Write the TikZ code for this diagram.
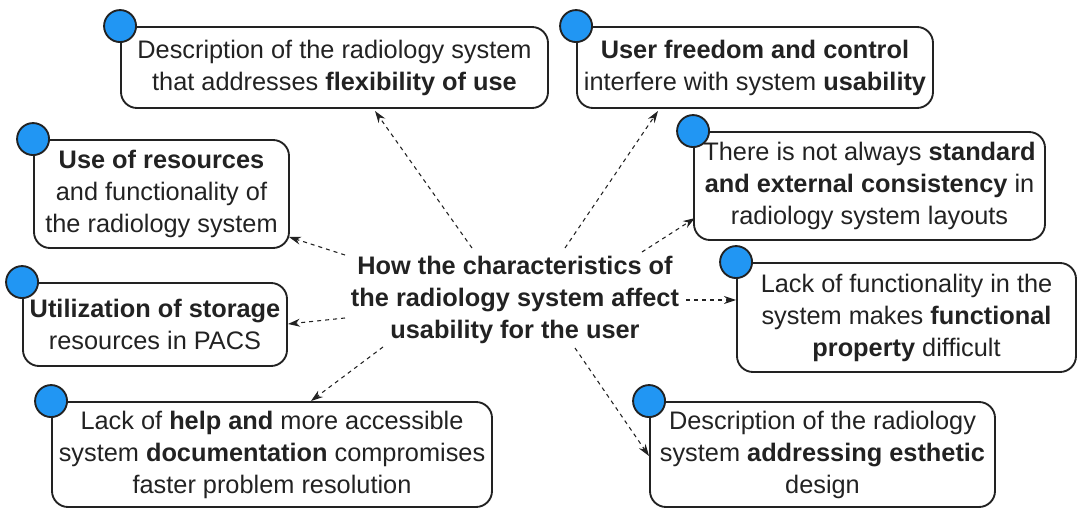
\documentclass[tikz,border=0pt]{standalone}
\usepackage{fontspec}
\setmainfont{Liberation Sans}
\usetikzlibrary{arrows.meta}
\definecolor{ink}{HTML}{222222}
\definecolor{dotblue}{HTML}{2196F3}

\begin{document}
\begin{tikzpicture}[x=0.75pt,y=-0.75pt,
  card/.style={draw=ink, line width=1.4pt, rounded corners=12pt, align=center,
    inner sep=0pt, text=ink, font=\fontsize{19}{24}\selectfont},
  dot/.style={circle, draw=ink, line width=1.4pt, fill=dotblue,
    minimum size=24pt, inner sep=0pt},
  link/.style={draw=ink, line width=0.8pt, dash pattern=on 3pt off 3pt,
    -{Stealth[length=9pt,width=6pt]}},
  hub/.style={align=center, text=ink, inner sep=0pt,
    font=\fontsize{19}{24}\selectfont\bfseries}]
\useasboundingbox (0,0) rectangle (1078,509);

% central question
\node[hub] (hub) at (515,300) {How the characteristics of\\the radiology system affect\\usability for the user};

% surrounding cards
\node[card, minimum width=320.25pt, minimum height=60.75pt] (b1) at (334.5,67.5)
  {Description of the radiology system\\that addresses \textbf{flexibility of use}};
\node[card, minimum width=191.25pt, minimum height=81pt] (b2) at (161.5,194)
  {\textbf{Use of resources}\\and functionality of\\the radiology system};
\node[card, minimum width=198pt, minimum height=62.25pt] (b3) at (155,324.5)
  {\textbf{Utilization of storage}\\resources in PACS};
\node[card, minimum width=330pt, minimum height=78.75pt] (b4) at (272,454.5)
  {Lack of \textbf{help and} more accessible\\system \textbf{documentation} compromises\\faster problem resolution};
\node[card, minimum width=267pt, minimum height=60.75pt] (b5) at (755,67.5)
  {\textbf{User freedom and control}\\interfere with system \textbf{usability}};
\node[card, minimum width=263.25pt, minimum height=81pt] (b6) at (869.5,186)
  {There is not always \textbf{standard}\\\textbf{and external consistency} in\\radiology system layouts};
\node[card, minimum width=254.25pt, minimum height=81.75pt] (b7) at (906.5,317.5)
  {Lack of functionality in the\\system makes \textbf{functional}\\\textbf{property} difficult};
\node[card, minimum width=258.75pt, minimum height=78.75pt] (b8) at (822.5,454.5)
  {Description of the radiology\\system \textbf{addressing esthetic}\\design};

% blue markers on the top-left corners
\foreach \b in {b1,b2,b3,b4,b5,b6,b7,b8}
  \node[dot] (dot-\b) at (\b.north west) {};

% connector end points
\coordinate (s1) at (472,248); \coordinate (e1) at (375,111);
\coordinate (s2) at (565,248); \coordinate (e2) at (658,111);
\coordinate (s3) at (642,252); \coordinate (e3) at (695,218);
\coordinate (s4) at (686,300); \coordinate (e4) at (736,300);
\coordinate (s5) at (575,348); \coordinate (e5) at (649,456);
\coordinate (s6) at (383,347); \coordinate (e6) at (311,401);
\coordinate (s7) at (345,318); \coordinate (e7) at (288,324);
\coordinate (s8) at (345,255); \coordinate (e8) at (289,237);

\foreach \i in {1,...,8}
  \draw[link] (s\i) -- (e\i);
\end{tikzpicture}
\end{document}
